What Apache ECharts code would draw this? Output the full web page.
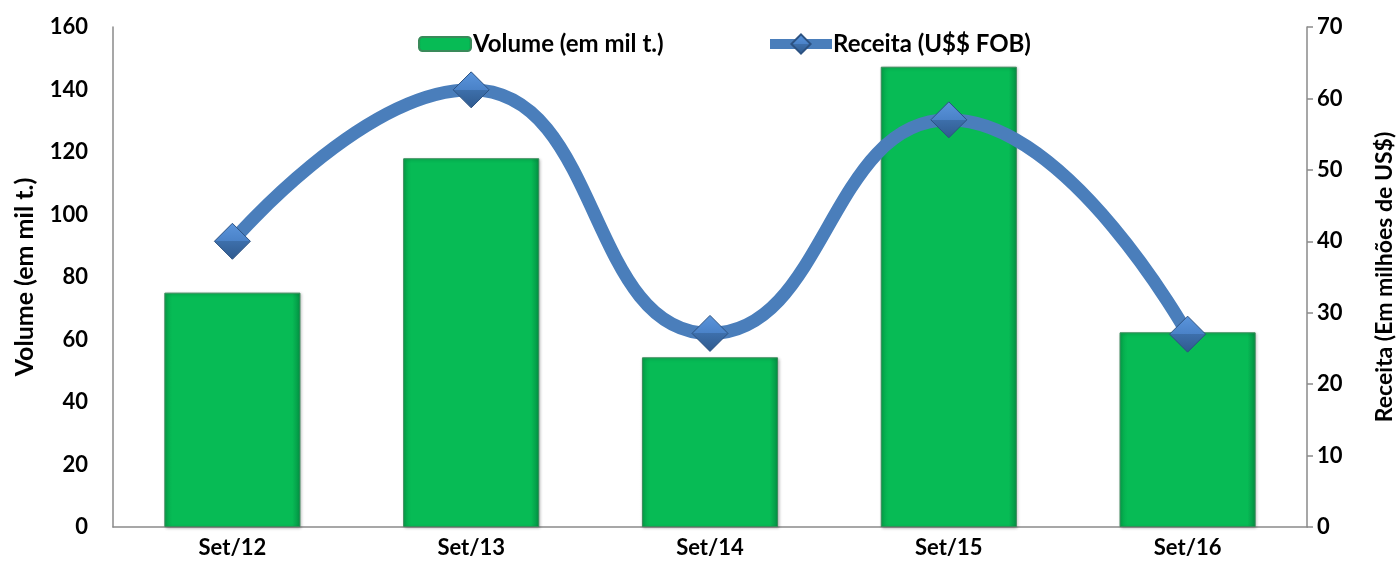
<!DOCTYPE html>
<html>
<head>
<meta charset="utf-8">
<script src="https://cdn.jsdelivr.net/npm/echarts@6/dist/echarts.min.js"></script>
<style>html,body{margin:0;padding:0;background:#fff}#c{width:1397px;height:571px}</style>
</head>
<body>
<div id="c"></div>
<script>
const categories = ['Set/12', 'Set/13', 'Set/14', 'Set/15', 'Set/16'];
const volume = [75, 118, 54.3, 147.3, 62.3];
const receita = [40, 61.2, 27.1, 57, 27];
const volumeName = 'Volume (em mil t.)';
const receitaName = 'Receita (U$$ FOB)';
const leftAxisName = 'Volume (em mil t.)';
const rightAxisName = 'Receita (Em milhões de US$)';

const FONT = 'Lato';
const chart = echarts.init(document.getElementById('c'));
chart.setOption({
  backgroundColor: '#ffffff',
  animation: false,
  textStyle: { fontFamily: FONT },
  grid: { left: 113, right: 90, top: 27, bottom: 44, outerBoundsMode: 'none', containLabel: false },
  legend: [
    {
      data: [volumeName], left: 413, top: 27, itemWidth: 52, itemHeight: 14, itemGap: 5,
      textStyle: { fontFamily: FONT, fontWeight: 'bold', fontSize: 24, color: '#000', padding: [0, 0, 0, -3] }
    },
    {
      data: [receitaName], left: 760, top: 27, itemWidth: 62, itemHeight: 24,
      lineStyle: { width: 10 },
      textStyle: { fontFamily: FONT, fontWeight: 'bold', fontSize: 24, color: '#000', padding: [0, 0, 0, -4] }
    }
  ],
  xAxis: {
    type: 'category', data: categories,
    axisLine: { show: true, lineStyle: { color: '#8a8a8a', width: 1.5 } },
    axisTick: { show: false },
    axisLabel: { fontFamily: FONT, fontWeight: 'bold', fontSize: 22, color: '#000', margin: 10 }
  },
  yAxis: [
    {
      type: 'value', min: 0, max: 160, interval: 20,
      name: leftAxisName, nameLocation: 'middle', nameGap: 76, nameRotate: 90,
      nameTextStyle: { fontFamily: FONT, fontWeight: 'bold', fontSize: 25, color: '#000' },
      axisLine: { show: true, lineStyle: { color: '#8a8a8a', width: 1.5 } },
      axisTick: { show: false },
      splitLine: { show: false },
      axisLabel: { fontFamily: FONT, fontWeight: 'bold', fontSize: 22, color: '#000', margin: 25 }
    },
    {
      type: 'value', min: 0, max: 70, interval: 10, position: 'right',
      name: rightAxisName, nameLocation: 'middle', nameGap: 66, nameRotate: 90,
      nameTextStyle: { fontFamily: FONT, fontWeight: 'bold', fontSize: 23, color: '#000' },
      axisLine: { show: true, lineStyle: { color: '#8a8a8a', width: 1.5 } },
      axisTick: { show: true, length: 6, lineStyle: { color: '#8a8a8a', width: 1.5 } },
      splitLine: { show: false },
      axisLabel: { fontFamily: FONT, fontWeight: 'bold', fontSize: 22, color: '#000', margin: 10 }
    }
  ],
  series: [
    {
      name: volumeName, type: 'bar', data: volume, yAxisIndex: 0, barWidth: '57%',
      itemStyle: {
        color: new echarts.graphic.LinearGradient(0, 0, 1, 0, [
          { offset: 0, color: '#05a84c' },
          { offset: 0.06, color: '#07bb55' },
          { offset: 0.94, color: '#07bb55' },
          { offset: 1, color: '#049043' }
        ]),
        borderColor: '#3a8a5a', borderWidth: 1,
        shadowColor: 'rgba(0,0,0,0.25)', shadowBlur: 3, shadowOffsetX: 1, shadowOffsetY: 1
      }
    },
    {
      name: receitaName, type: 'line', data: receita, yAxisIndex: 1, smooth: 0.5,
      symbol: 'diamond', symbolSize: 36,
      lineStyle: { color: '#4a7ebb', width: 13 },
      itemStyle: {
        color: new echarts.graphic.LinearGradient(0, 0, 0, 1, [
          { offset: 0, color: '#5b95dc' },
          { offset: 0.5, color: '#4a82c8' },
          { offset: 0.5, color: '#3d6fab' },
          { offset: 1, color: '#2f5a8e' }
        ]),
        borderColor: '#2c5282', borderWidth: 1
      },
      z: 5
    }
  ]
});
</script>
</body>
</html>
